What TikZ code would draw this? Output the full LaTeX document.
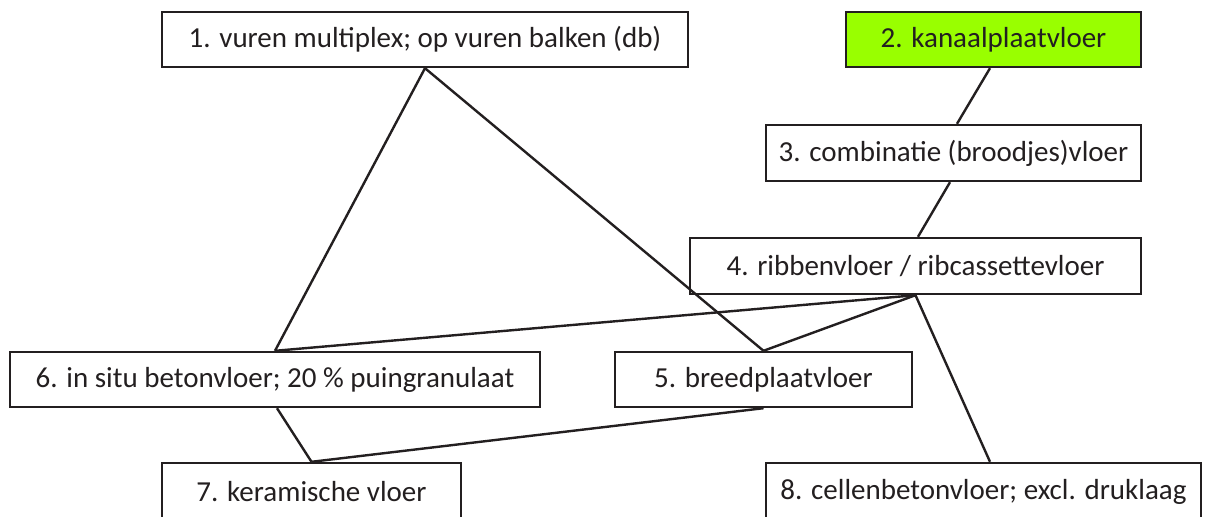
\documentclass[tikz,border=0pt]{standalone}
\usepackage{fontspec}
\setmainfont{Carlito}
\definecolor{ink}{RGB}{35,31,32}
\definecolor{limegreen}{RGB}{153,255,0}
\begin{document}
\begin{tikzpicture}[x=1pt,y=-1pt,
  floorbox/.style={draw=ink, line width=2.4pt, inner sep=0pt, text=ink,
    font=\fontsize{29pt}{34pt}\selectfont, minimum height=55pt},
  link/.style={draw=ink, line width=2.4pt}]
  \useasboundingbox (0,0) rectangle (1211,517);
  \clip (0,0) rectangle (1211,517);
  \fill[white] (0,0) rectangle (1211,517);

  % floor types
  \node[floorbox, minimum width=526pt] (b1) at (425,39.5) {1. vuren multiplex; op vuren balken (db)};
  \node[floorbox, minimum width=295pt, fill=limegreen] (b2) at (993.5,39.5) {2. kanaalplaatvloer};
  \node[floorbox, minimum width=375pt, minimum height=56pt] (b3) at (953.5,153) {3. combinatie (broodjes)vloer};
  \node[floorbox, minimum width=451pt, minimum height=56pt] (b4) at (915.5,266) {4. ribbenvloer / ribcassettevloer};
  \node[floorbox, minimum width=297pt] (b5) at (763.5,379.5) {5. breedplaatvloer};
  \node[floorbox, minimum width=530pt] (b6) at (275,379.5) {6. in situ betonvloer; 20 \% puingranulaat};
  \node[floorbox, minimum width=299pt, minimum height=58pt] (b7) at (311.5,492) {7. keramische vloer};
  \node[floorbox, minimum width=435pt, minimum height=58pt] (b8) at (983.5,492) {8. cellenbetonvloer; excl. druklaag};

  % connections
  \draw[link] (b1.south) -- (b6.north);
  \draw[link] (b1.south) -- (b5.north);
  \draw[link] ([xshift=-3.5pt]b2.south) -- ([xshift=3.5pt]b3.north);
  \draw[link] ([xshift=-3.5pt]b3.south) -- ([xshift=2.5pt]b4.north);
  \draw[link] (b4.south) -- (b6.north);
  \draw[link] (b4.south) -- (b5.north);
  \draw[link] (b4.south) -- ([xshift=6.5pt]b8.north);
  \draw[link] ([xshift=2pt]b6.south) -- (b7.north);
  \draw[link] (b5.south) -- (b7.north);
\end{tikzpicture}
\end{document}
